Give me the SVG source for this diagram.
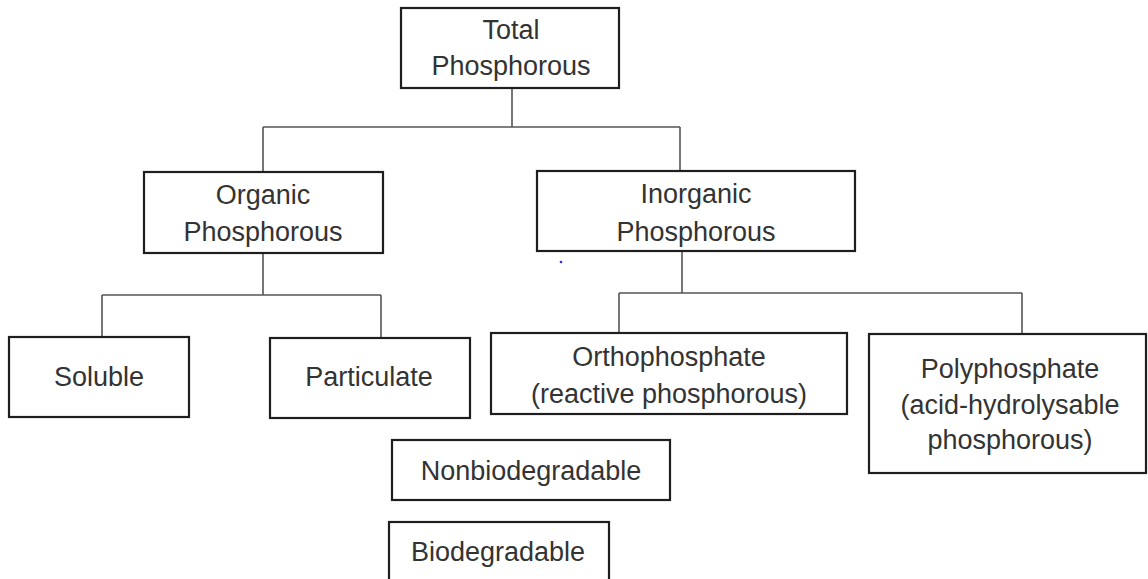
<svg xmlns="http://www.w3.org/2000/svg" width="1148" height="579" viewBox="0 0 1148 579">
<style>
.box{fill:#fff;stroke:#1e1e1e;stroke-width:2.2}
.t{font-family:"Liberation Sans",Arial,sans-serif;font-size:27px;fill:#333;text-anchor:middle}
.c{fill:none;stroke:#555;stroke-width:1.6}
</style>
<rect width="1148" height="579" fill="#fff"/>
<g id="connectors">
<path class="c" d="M512 88V127M263 127H680M263 127V172M680 127V171"/>
<path class="c" d="M263 253V295M102 295H381M102 295V337M381 295V338"/>
<path class="c" d="M682 251V293M619 293H1022M619 293V333M1022 293V334"/>
</g>
<g id="total"><rect class="box" x="401" y="8" width="218" height="80"/><text class="t" x="511" y="39">Total</text><text class="t" x="511" y="75">Phosphorous</text></g>
<g id="organic"><rect class="box" x="144" y="172" width="239" height="81"/><text class="t" x="263" y="204">Organic</text><text class="t" x="263" y="241">Phosphorous</text></g>
<g id="inorganic"><rect class="box" x="537" y="171" width="318" height="80"/><text class="t" x="696" y="203">Inorganic</text><text class="t" x="696" y="241">Phosphorous</text></g>
<g id="soluble"><rect class="box" x="9" y="337" width="180" height="80"/><text class="t" x="99" y="386">Soluble</text></g>
<g id="particulate"><rect class="box" x="270" y="338" width="200" height="80"/><text class="t" x="369" y="386">Particulate</text></g>
<g id="ortho"><rect class="box" x="491" y="333" width="356" height="81"/><text class="t" x="669" y="366">Orthophosphate</text><text class="t" x="669" y="403">(reactive phosphorous)</text></g>
<g id="poly"><rect class="box" x="869" y="334" width="277" height="139"/><text class="t" x="1010" y="378">Polyphosphate</text><text class="t" x="1010" y="414">(acid-hydrolysable</text><text class="t" x="1010" y="449">phosphorous)</text></g>
<g id="nonbio"><rect class="box" x="392" y="440" width="278" height="60"/><text class="t" x="531" y="480">Nonbiodegradable</text></g>
<g id="bio"><rect class="box" x="389" y="522" width="220" height="70"/><text class="t" x="498" y="561">Biodegradable</text></g>
<circle cx="561" cy="262" r="1.3" fill="#2a2aff"/>
</svg>
